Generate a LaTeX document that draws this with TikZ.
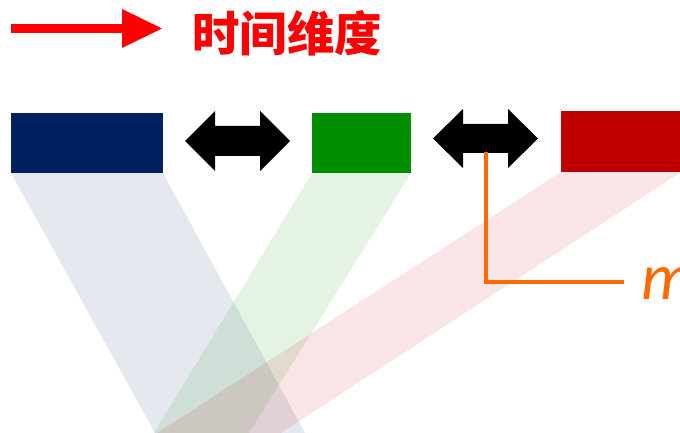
\documentclass[tikz,border=0pt]{standalone}
\usepackage{fontspec}
\newfontfamily\cjk{Noto Sans CJK SC}
\newfontfamily\mfont{Carlito}
\definecolor{navy}{HTML}{002060}
\definecolor{dgreen}{HTML}{008E00}
\definecolor{dred}{HTML}{C00000}
\definecolor{orng}{HTML}{FF6A00}
\begin{document}
\begin{tikzpicture}[x=1pt,y=-1pt,
  band/.style={fill opacity=0.1},
  blockbox/.style={draw=none,inner sep=0pt,anchor=north west},
  dblarrow/.style={fill=black},
  guide/.style={draw=orng,line width=3.5pt}]
\useasboundingbox (0,0) rectangle (680,433);
\begin{scope}
\clip (0,0) rectangle (680,433);
% translucent bands
\fill[band,navy] (11,173) -- (163,173) -- (305,433) -- (155,433) -- cycle;
\fill[band,dgreen] (312,173) -- (411,173) -- (249,433) -- (154,433) -- cycle;
\fill[band,dred] (561,172) -- (681,172) -- (281,433) -- (157,433) -- cycle;
\end{scope}
% blocks
\node[blockbox,fill=navy,minimum width=152pt,minimum height=60pt] (blue) at (11,113) {};
\node[blockbox,fill=dgreen,minimum width=99pt,minimum height=60pt] (green) at (312,113) {};
\node[blockbox,fill=dred,minimum width=119pt,minimum height=61pt] (red) at (561,111) {};
% double arrows
\fill[dblarrow] (185,141) -- (215,111) -- (215,126) -- (260,126) -- (260,111) -- (290,141)
  -- (260,171) -- (260,156) -- (215,156) -- (215,171) -- cycle;
\fill[dblarrow] (433,138.5) -- (463,109) -- (463,124) -- (508,124) -- (508,109) -- (538,138.5)
  -- (508,168) -- (508,153) -- (463,153) -- (463,168) -- cycle;
\coordinate (a2bot) at (486,152);
% time arrow
\fill[red] (11,24) rectangle (122.5,33);
\fill[red] (122,9) -- (162,28.5) -- (122,48) -- cycle;
\node[inner sep=0pt,text=red,font=\cjk\bfseries\fontsize{47.5}{52}\selectfont] (title) at (287,33) {时间维度};
% m label
\node[inner sep=0pt,anchor=base west,text=orng,font=\mfont\itshape\fontsize{66}{70}\selectfont] (mlab) at (641,299) {m};
\coordinate (mend) at (624,282);
\draw[guide] (a2bot) |- (mend);
\end{tikzpicture}
\end{document}
